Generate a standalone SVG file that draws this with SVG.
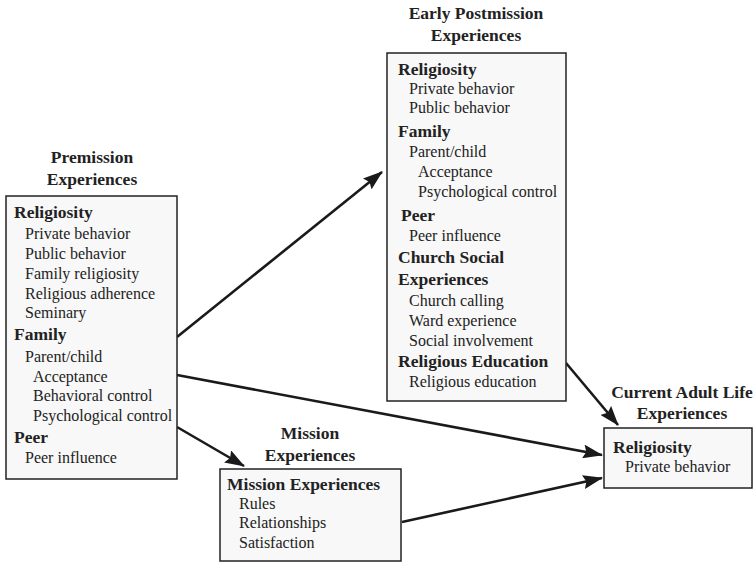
<svg xmlns="http://www.w3.org/2000/svg" width="754" height="562" viewBox="0 0 754 562">
<style>
  .box { fill: #f8f8f8; stroke: #222; stroke-width: 1.5; }
  text { font-family: "Liberation Serif", "Times New Roman", serif; fill: #222; }
  .h { font-weight: bold; font-size: 17.5px; }
  .r { font-size: 16px; }
  .t { font-weight: bold; font-size: 17.5px; text-anchor: middle; }
  .edge { stroke: #1a1a1a; stroke-width: 2.6; fill: none; marker-end: url(#arr); }
</style>
<defs>
  <marker id="arr" markerUnits="userSpaceOnUse" markerWidth="20" markerHeight="14" viewBox="0 0 20 14" refX="19" refY="7" orient="auto">
    <path d="M0,0 L20,7 L0,14 L3,7 z" fill="#1a1a1a"/>
  </marker>
</defs>
<rect width="754" height="562" fill="#ffffff"/>
<g id="connectors">
  <line class="edge" x1="177" y1="337" x2="382" y2="172"/>
  <line class="edge" x1="177" y1="375" x2="602" y2="455"/>
  <line class="edge" x1="177" y1="427" x2="244" y2="466"/>
  <line class="edge" x1="566" y1="363" x2="618" y2="425"/>
  <line class="edge" x1="402" y1="522" x2="602" y2="478"/>
</g>
<g id="premission">
  <text class="t" x="92" y="163">Premission</text>
  <text class="t" x="92" y="185">Experiences</text>
  <rect class="box" x="6" y="196" width="171" height="283"/>
  <text class="h" x="14" y="218">Religiosity</text>
  <text class="r" x="25" y="239">Private behavior</text>
  <text class="r" x="25" y="259">Public behavior</text>
  <text class="r" x="25" y="279">Family religiosity</text>
  <text class="r" x="25" y="299">Religious adherence</text>
  <text class="r" x="25" y="318">Seminary</text>
  <text class="h" x="14" y="340">Family</text>
  <text class="r" x="25" y="362">Parent/child</text>
  <text class="r" x="33" y="382">Acceptance</text>
  <text class="r" x="33" y="401">Behavioral control</text>
  <text class="r" x="33" y="421">Psychological control</text>
  <text class="h" x="14" y="443">Peer</text>
  <text class="r" x="25" y="463">Peer influence</text>
</g>
<g id="early-postmission">
  <text class="t" x="476" y="19">Early Postmission</text>
  <text class="t" x="476" y="41">Experiences</text>
  <rect class="box" x="387" y="53" width="179" height="348"/>
  <text class="h" x="398" y="75">Religiosity</text>
  <text class="r" x="409" y="94">Private behavior</text>
  <text class="r" x="409" y="113">Public behavior</text>
  <text class="h" x="398" y="137">Family</text>
  <text class="r" x="409" y="157">Parent/child</text>
  <text class="r" x="418" y="177">Acceptance</text>
  <text class="r" x="418" y="197">Psychological control</text>
  <text class="h" x="401" y="221">Peer</text>
  <text class="r" x="409" y="241">Peer influence</text>
  <text class="h" x="398" y="263">Church Social</text>
  <text class="h" x="398" y="285">Experiences</text>
  <text class="r" x="409" y="306">Church calling</text>
  <text class="r" x="409" y="326">Ward experience</text>
  <text class="r" x="409" y="346">Social involvement</text>
  <text class="h" x="398" y="367">Religious Education</text>
  <text class="r" x="409" y="387">Religious education</text>
</g>
<g id="mission">
  <text class="t" x="310" y="439">Mission</text>
  <text class="t" x="310" y="461">Experiences</text>
  <rect class="box" x="220" y="469" width="181" height="92"/>
  <text class="h" x="227" y="490">Mission Experiences</text>
  <text class="r" x="239" y="509">Rules</text>
  <text class="r" x="239" y="528">Relationships</text>
  <text class="r" x="239" y="548">Satisfaction</text>
</g>
<g id="current-adult">
  <text class="t" x="682" y="398">Current Adult Life</text>
  <text class="t" x="682" y="419">Experiences</text>
  <rect class="box" x="604" y="428" width="148" height="60"/>
  <text class="h" x="613" y="453">Religiosity</text>
  <text class="r" x="625" y="472">Private behavior</text>
</g>
</svg>
